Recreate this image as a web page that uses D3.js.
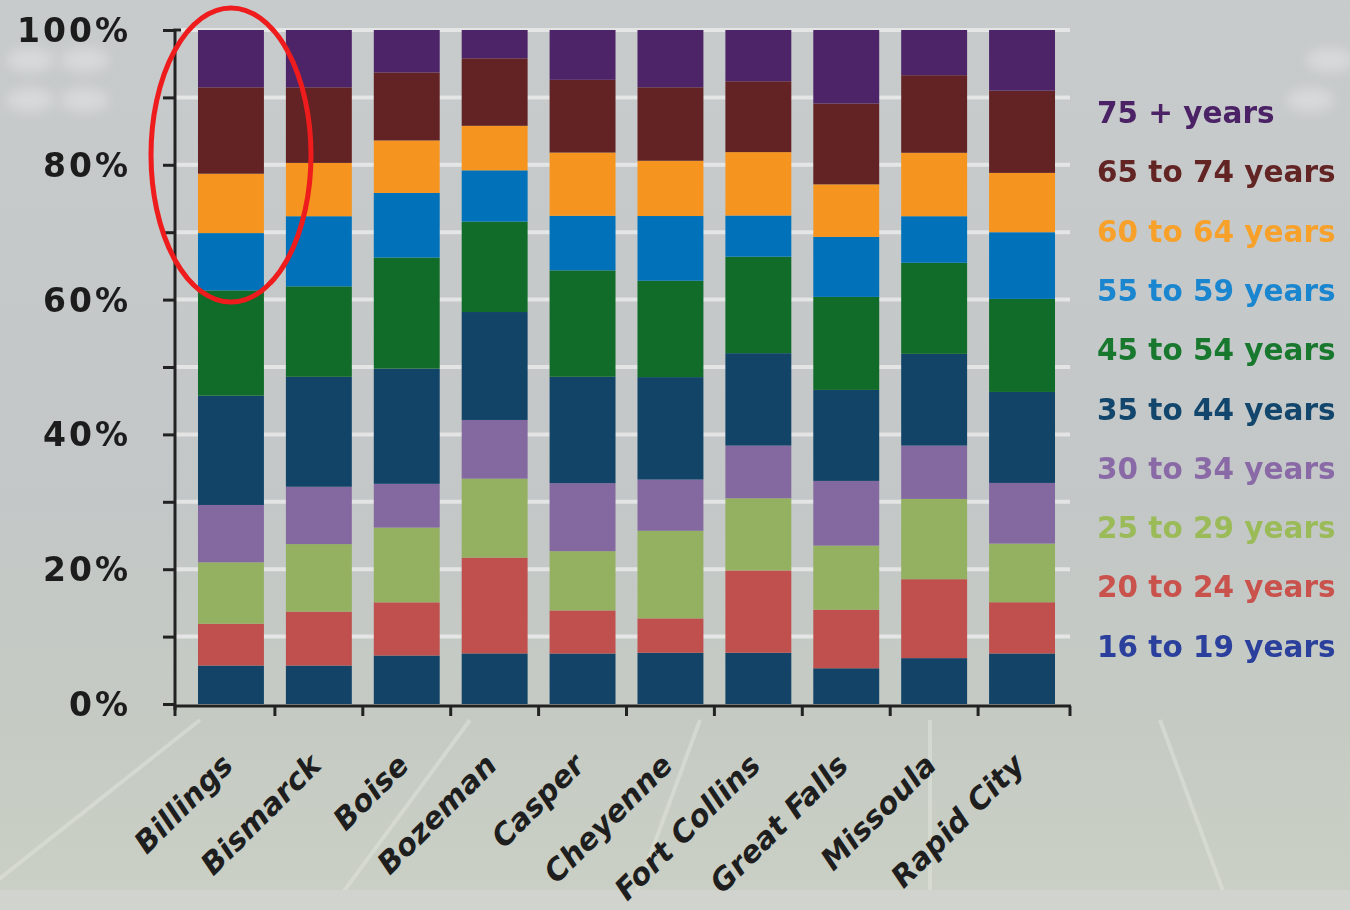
<!DOCTYPE html>
<html><head><meta charset="utf-8">
<script src="https://cdn.jsdelivr.net/npm/d3@7"></script>
<style>
html,body{margin:0;padding:0;background:#c6c9c9;}
svg{display:block;}
</style></head>
<body>
<svg id="chart" width="1350" height="910"></svg>
<script>
const cities = ["Billings","Bismarck","Boise","Bozeman","Casper","Cheyenne","Fort Collins","Great Falls","Missoula","Rapid City"];
const ageGroups = ["16 to 19 years","20 to 24 years","25 to 29 years","30 to 34 years","35 to 44 years","45 to 54 years","55 to 59 years","60 to 64 years","65 to 74 years","75 + years"];
const v16_19 = [5.7, 5.7, 7.2, 7.5, 7.5, 7.6, 7.6, 5.3, 6.8, 7.5];
const v20_24 = [6.2, 8.0, 7.9, 14.2, 6.4, 5.1, 12.2, 8.7, 11.7, 7.6];
const v25_29 = [9.1, 10.0, 11.1, 11.7, 8.8, 13.0, 10.7, 9.5, 11.9, 8.7];
const v30_34 = [8.5, 8.5, 6.5, 8.7, 10.1, 7.6, 7.8, 9.6, 7.9, 9.0];
const v35_44 = [16.2, 16.3, 17.1, 16.0, 15.8, 15.2, 13.7, 13.5, 13.6, 13.5];
const v45_54 = [15.6, 13.4, 16.5, 13.4, 15.8, 14.3, 14.3, 13.8, 13.5, 13.8];
const v55_59 = [8.5, 10.4, 9.6, 7.6, 8.1, 9.6, 6.1, 8.9, 6.9, 9.9];
const v60_64 = [8.8, 7.9, 7.8, 6.6, 9.4, 8.2, 9.4, 7.8, 9.4, 8.8];
const v65_74 = [12.8, 11.2, 10.1, 10.0, 10.8, 10.9, 10.5, 12.0, 11.5, 12.2];
const v75plus = [8.5, 8.5, 6.3, 4.2, 7.4, 8.5, 7.6, 10.9, 6.7, 9.0];
const seriesValues = [v16_19, v20_24, v25_29, v30_34, v35_44, v45_54, v55_59, v60_64, v65_74, v75plus];
const yTickLabels = ["0%","20%","40%","60%","80%","100%"];

const barColors = ["#134467","#c0504d","#94b061","#8469a0","#124468","#116b29","#0172ba","#f5951f","#632324","#4d2468"];
const textColors = ["#2b3f9c","#c9524d","#9bbb59","#8a6aa6","#12466c","#17782e","#1a86d0","#f7a12a","#632424","#4b2266"];

const table = cities.map((c, i) => {
  const row = {city: c};
  ageGroups.forEach((g, j) => row[g] = seriesValues[j][i]);
  return row;
});
const stacked = d3.stack().keys(ageGroups).offset(d3.stackOffsetExpand)(table);

const svg = d3.select("#chart");
const defs = svg.append("defs");
const bg = defs.append("linearGradient").attr("id","bg").attr("x1",0).attr("y1",0).attr("x2",0).attr("y2",1);
bg.append("stop").attr("offset","0").attr("stop-color","#c8cbcc");
bg.append("stop").attr("offset","0.55").attr("stop-color","#c3c7c7");
bg.append("stop").attr("offset","0.8").attr("stop-color","#c5cbc3");
bg.append("stop").attr("offset","1").attr("stop-color","#cbd0c6");
const blur = defs.append("filter").attr("id","blur").attr("x","-50%").attr("y","-50%").attr("width","200%").attr("height","200%");
blur.append("feGaussianBlur").attr("stdDeviation",6);

svg.append("rect").attr("width",1350).attr("height",910).attr("fill","url(#bg)");

// decorative stadium lights and field lines
const deco = svg.append("g").attr("opacity",0.5);
[[30,60],[85,60],[30,100],[85,100],[1330,60],[1310,100]].forEach(p=>{
  deco.append("ellipse").attr("cx",p[0]).attr("cy",p[1]).attr("rx",24).attr("ry",12).attr("fill","#e6e8e8").attr("filter","url(#blur)");
});
const field = svg.append("g").attr("stroke","#e2e6dd").attr("stroke-width",4).attr("opacity",0.5).attr("fill","none");
[[200,720,-40,910],[470,720,330,910],[700,720,630,910],[930,720,930,910],[1160,720,1230,910],[1390,720,1520,910]].forEach(l=>{
  field.append("line").attr("x1",l[0]).attr("y1",l[1]).attr("x2",l[2]).attr("y2",l[3]);
});
svg.append("rect").attr("x",0).attr("y",890).attr("width",1350).attr("height",20).attr("fill","#d0d3ce");

const x = d3.scaleBand().domain(cities).range([187, 1066]).paddingInner(0.25).paddingOuter(0.125);
const y = d3.scaleLinear().domain([0, 1]).range([704, 30]);

// gridlines
svg.append("g").selectAll("line").data(d3.range(0.1, 1.01, 0.1)).join("line")
  .attr("x1",175).attr("x2",1070).attr("y1",d=>y(d)).attr("y2",d=>y(d))
  .attr("stroke","#ececec").attr("stroke-width",4).attr("opacity",0.8);

// bars
svg.append("g").selectAll("g").data(stacked).join("g")
  .attr("fill",(d,i)=>barColors[i])
  .selectAll("rect").data(d=>d).join("rect")
  .attr("x",d=>x(d.data.city))
  .attr("width",x.bandwidth())
  .attr("y",d=>y(d[1]))
  .attr("height",d=>y(d[0])-y(d[1]));

// y axis
const yAxis = svg.append("g").attr("transform","translate(175,0)")
  .call(d3.axisLeft(y).tickValues(d3.range(0,1.01,0.1)).tickSize(12).tickFormat(""));
yAxis.select(".domain").attr("stroke","#222").attr("stroke-width",3).attr("d","M6,30H0V710");
yAxis.selectAll(".tick line").attr("stroke","#222").attr("stroke-width",3);

svg.append("g").selectAll("text").data(yTickLabels).join("text")
  .attr("x",131).attr("y",(d,i)=>y(i*0.2)+12)
  .attr("text-anchor","end")
  .attr("font-family","DejaVu Sans").attr("font-weight","bold").attr("font-size",33)
  .attr("letter-spacing",3)
  .attr("fill","#1c1c1c").text(d=>d);

// x axis
const boundaries = [175].concat(cities.slice(1).map(c=>x(c)-x.step()*x.paddingInner()/2)).concat([1070]);
const xg = svg.append("g");
xg.append("line").attr("x1",174).attr("x2",1071).attr("y1",706).attr("y2",706).attr("stroke","#222").attr("stroke-width",3);
xg.selectAll("line.t").data(boundaries).join("line").attr("class","t")
  .attr("x1",d=>d).attr("x2",d=>d).attr("y1",706).attr("y2",716)
  .attr("stroke","#222").attr("stroke-width",3);

svg.append("g").selectAll("text").data(cities).join("text")
  .attr("transform",d=>`translate(${x(d)+x.bandwidth()/2+4},767) rotate(-45)`)
  .attr("text-anchor","end")
  .attr("font-family","DejaVu Sans").attr("font-weight","bold").attr("font-style","oblique")
  .attr("font-size",30).attr("fill","#1e1e1e")
  .text(d=>d);

// legend (top to bottom: 75+ first)
const legendOrder = ageGroups.map((g,i)=>({g, i})).reverse();
svg.append("g").selectAll("text").data(legendOrder).join("text")
  .attr("x",1097).attr("y",(d,k)=>112 + k*59.3 + 11)
  .attr("font-family","DejaVu Sans").attr("font-weight","bold").attr("font-size",29.5)
  .attr("fill",d=>textColors[d.i]).text(d=>d.g);

// red annotation ellipse
svg.append("ellipse").attr("cx",231).attr("cy",155).attr("rx",80).attr("ry",147)
  .attr("fill","none").attr("stroke","#ee1c1c").attr("stroke-width",5);
</script>
</body></html>
